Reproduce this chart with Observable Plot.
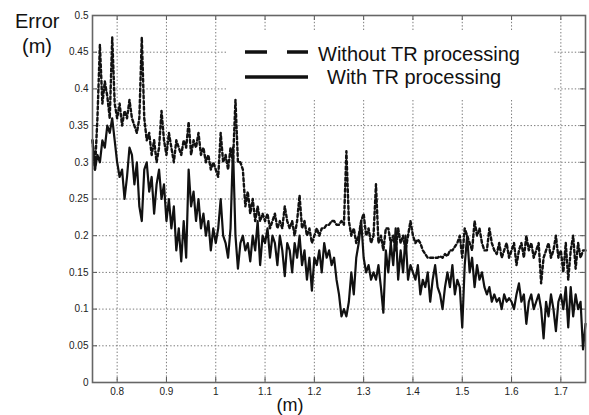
<!DOCTYPE html>
<html>
<head>
<meta charset="utf-8">
<script src="https://cdn.jsdelivr.net/npm/d3@7"></script>
<script src="https://cdn.jsdelivr.net/npm/@observablehq/plot@0.6"></script>
<style>
  html, body { margin: 0; padding: 0; background: #fff; }
  #chart { width: 589px; height: 415px; overflow: hidden; }
</style>
</head>
<body>
<div id="chart"></div>
<script>
// sampling grid of distance (m)
const xStart = 0.75;
const xStep = 0.005;

// Error (m) without TR processing (dashed)
const withoutTR = [
  0.33,0.29,0.36,0.46,0.38,0.41,0.39,0.36,0.47,0.38,
  0.36,0.38,0.35,0.37,0.36,0.385,0.36,0.35,0.34,0.36,
  0.47,0.36,0.33,0.34,0.31,0.33,0.30,0.32,0.37,0.33,
  0.31,0.34,0.32,0.30,0.33,0.32,0.31,0.33,0.32,0.355,
  0.31,0.33,0.32,0.34,0.31,0.32,0.30,0.31,0.29,0.30,
  0.29,0.28,0.34,0.30,0.31,0.29,0.32,0.30,0.385,0.30,
  0.30,0.29,0.24,0.26,0.23,0.25,0.22,0.24,0.22,0.23,
  0.22,0.23,0.21,0.22,0.23,0.21,0.22,0.21,0.24,0.22,
  0.21,0.22,0.20,0.22,0.255,0.21,0.22,0.20,0.21,0.19,
  0.20,0.21,0.20,0.21,0.21,0.215,0.215,0.22,0.22,0.215,
  0.215,0.22,0.215,0.315,0.22,0.20,0.21,0.19,0.20,0.22,
  0.23,0.20,0.21,0.19,0.20,0.27,0.19,0.20,0.18,0.21,
  0.21,0.19,0.20,0.18,0.21,0.19,0.20,0.18,0.20,0.22,
  0.20,0.19,0.195,0.19,0.18,0.175,0.17,0.17,0.17,0.17,
  0.17,0.172,0.17,0.175,0.172,0.18,0.18,0.185,0.19,0.20,
  0.17,0.21,0.20,0.19,0.18,0.22,0.20,0.21,0.19,0.18,
  0.18,0.21,0.19,0.18,0.175,0.19,0.17,0.18,0.19,0.17,
  0.18,0.19,0.16,0.18,0.19,0.17,0.20,0.18,0.19,0.17,
  0.18,0.19,0.135,0.17,0.18,0.19,0.17,0.18,0.20,0.17,
  0.18,0.15,0.19,0.14,0.18,0.20,0.155,0.19,0.17,0.18,
  0.18
];

// Error (m) with TR processing (solid)
const withTR = [
  0.33,0.29,0.31,0.30,0.33,0.32,0.35,0.34,0.36,0.33,
  0.30,0.28,0.29,0.25,0.28,0.32,0.31,0.27,0.30,0.24,
  0.22,0.29,0.30,0.26,0.28,0.23,0.27,0.29,0.25,0.27,
  0.22,0.25,0.21,0.24,0.18,0.21,0.165,0.22,0.17,0.29,
  0.24,0.26,0.22,0.25,0.21,0.23,0.20,0.22,0.18,0.21,
  0.19,0.21,0.25,0.20,0.19,0.17,0.21,0.32,0.20,0.155,
  0.19,0.20,0.18,0.19,0.165,0.20,0.18,0.22,0.16,0.20,
  0.19,0.21,0.17,0.20,0.19,0.16,0.20,0.18,0.145,0.19,
  0.18,0.15,0.19,0.17,0.20,0.16,0.18,0.14,0.17,0.125,
  0.17,0.16,0.18,0.15,0.19,0.17,0.18,0.16,0.17,0.14,
  0.12,0.09,0.10,0.09,0.11,0.15,0.12,0.17,0.19,0.22,
  0.17,0.15,0.16,0.14,0.15,0.14,0.16,0.13,0.095,0.18,
  0.15,0.19,0.16,0.21,0.14,0.18,0.15,0.20,0.14,0.16,
  0.15,0.14,0.16,0.12,0.14,0.13,0.15,0.11,0.14,0.16,
  0.13,0.12,0.10,0.13,0.15,0.13,0.16,0.12,0.14,0.13,
  0.075,0.16,0.20,0.15,0.17,0.13,0.16,0.14,0.15,0.13,
  0.12,0.13,0.11,0.12,0.11,0.115,0.10,0.12,0.11,0.115,
  0.11,0.10,0.12,0.135,0.11,0.12,0.08,0.11,0.12,0.10,
  0.11,0.12,0.10,0.06,0.11,0.09,0.12,0.10,0.07,0.11,
  0.12,0.10,0.13,0.075,0.13,0.09,0.12,0.10,0.11,0.045,
  0.08
];

const xTicks = [0.8, 0.9, 1, 1.1, 1.2, 1.3, 1.4, 1.5, 1.6, 1.7];
const yTicks = [0, 0.05, 0.1, 0.15, 0.2, 0.25, 0.3, 0.35, 0.4, 0.45, 0.5];
const seriesNames = ["Without TR processing", "With TR processing"];
const yTitle = ["Error", "(m)"];
const xTitle = "(m)";

const toRows = (vals) => vals.map((v, i) => ({x: xStart + i * xStep, y: v}));
const rowsWithout = toRows(withoutTR);
const rowsWith = toRows(withTR);

const W = 589, H = 415;
const mL = 92, mR = 4, mT = 15, mB = 33;
const innerH = H - mT - mB;
const innerW = W - mL - mR;
const tickLen = 5;
const gridStyle = {stroke: "#7a7a7a", strokeWidth: 1, strokeDasharray: "1.4,2"};
const tickStyle = {stroke: "#555", strokeWidth: 1};

const chart = Plot.plot({
  width: W, height: H,
  marginLeft: mL, marginRight: mR, marginTop: mT, marginBottom: mB,
  style: {fontFamily: "'Liberation Sans', Arial, sans-serif", fontSize: "10px", color: "#222", background: "#fff", overflow: "visible"},
  x: {domain: [0.75, 1.75]},
  y: {domain: [0, 0.5]},
  marks: [
    Plot.ruleX(xTicks, {x: d => d, ...gridStyle}),
    Plot.ruleY(yTicks.slice(1, -1), {y: d => d, ...gridStyle}),
    Plot.tickX(xTicks, {x: d => d, insetTop: innerH - tickLen, ...tickStyle}),
    Plot.tickX(xTicks, {x: d => d, insetBottom: innerH - tickLen, ...tickStyle}),
    Plot.tickY(yTicks, {y: d => d, insetRight: innerW - tickLen, ...tickStyle}),
    Plot.tickY(yTicks, {y: d => d, insetLeft: innerW - tickLen, ...tickStyle}),
    Plot.line(rowsWithout, {x: "x", y: "y", stroke: "#111", strokeWidth: 2.4, strokeDasharray: "3,2.6"}),
    Plot.line(rowsWith, {x: "x", y: "y", stroke: "#111", strokeWidth: 2.2, strokeLinejoin: "round"}),
    Plot.frame({stroke: "#666", strokeWidth: 1.6}),
    Plot.axisX(xTicks, {tickSize: 0, tickPadding: 5, tickFormat: d => String(d), label: null, fill: "#222"}),
    Plot.axisY(yTicks, {tickSize: 0, tickPadding: 4, tickFormat: d => String(d), label: null, fill: "#222"})
  ]
});

document.getElementById("chart").appendChild(chart);

// legend and titles
const svg = d3.select(chart);
const font = "'Liberation Sans', Arial, sans-serif";
const g = svg.append("g").attr("text-anchor", "start").attr("font-family", font).attr("font-size", 20);
g.append("rect").attr("x", 227).attr("y", 30).attr("width", 326).attr("height", 68).attr("fill", "#fff").attr("stroke", "none");
g.append("line").attr("x1", 245).attr("x2", 308).attr("y1", 52).attr("y2", 52)
  .attr("stroke", "#111").attr("stroke-width", 3.5).attr("stroke-dasharray", "22,20");
g.append("line").attr("x1", 245).attr("x2", 308).attr("y1", 77).attr("y2", 77)
  .attr("stroke", "#111").attr("stroke-width", 3.5);
g.append("text").attr("x", 318).attr("y", 61).attr("text-anchor", "start").attr("fill", "#111").text(seriesNames[0]);
g.append("text").attr("x", 327).attr("y", 84).attr("text-anchor", "start").attr("fill", "#111").text(seriesNames[1]);
g.append("text").attr("x", 15).attr("y", 28).attr("text-anchor", "start").attr("fill", "#111").text(yTitle[0]);
g.append("text").attr("x", 22).attr("y", 53).attr("text-anchor", "start").attr("fill", "#111").text(yTitle[1]);
g.append("text").attr("x", 290).attr("y", 411).attr("text-anchor", "middle").attr("font-size", 18).attr("fill", "#111").text(xTitle);
</script>
</body>
</html>
